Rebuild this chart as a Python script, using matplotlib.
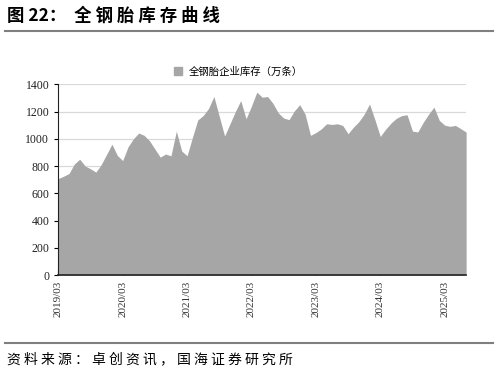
import matplotlib
matplotlib.use("Agg")
import matplotlib.pyplot as plt
from matplotlib.lines import Line2D
from matplotlib.patches import Patch

plt.rcParams['font.family'] = ['Noto Sans CJK SC', 'DejaVu Sans']

# =========================
# Datos (mensual, 2019/03 - 2025/07)
# =========================
months = ["2019/03", "2019/04", "2019/05", "2019/06", "2019/07", "2019/08", "2019/09",
          "2019/10", "2019/11", "2019/12", "2020/01", "2020/02",
          "2020/03", "2020/04", "2020/05", "2020/06", "2020/07", "2020/08", "2020/09",
          "2020/10", "2020/11", "2020/12", "2021/01", "2021/02",
          "2021/03", "2021/04", "2021/05", "2021/06", "2021/07", "2021/08", "2021/09",
          "2021/10", "2021/11", "2021/12", "2022/01", "2022/02",
          "2022/03", "2022/04", "2022/05", "2022/06", "2022/07", "2022/08", "2022/09",
          "2022/10", "2022/11", "2022/12", "2023/01", "2023/02",
          "2023/03", "2023/04", "2023/05", "2023/06", "2023/07", "2023/08", "2023/09",
          "2023/10", "2023/11", "2023/12", "2024/01", "2024/02",
          "2024/03", "2024/04", "2024/05", "2024/06", "2024/07", "2024/08", "2024/09",
          "2024/10", "2024/11", "2024/12", "2025/01", "2025/02",
          "2025/03", "2025/04", "2025/05", "2025/06", "2025/07"]

inventory = [708, 725, 745, 815, 850, 800, 780, 755, 810, 885, 960, 878,
             840, 940, 1000, 1042, 1025, 985, 925, 865, 888, 875, 1056, 910,
             875, 1010, 1138, 1170, 1222, 1310, 1165, 1020, 1110, 1200, 1280, 1147,
             1240, 1342, 1305, 1310, 1260, 1190, 1152, 1140, 1205, 1250, 1180, 1025,
             1045, 1072, 1110, 1105, 1110, 1098, 1037, 1085, 1125, 1180, 1255, 1140,
             1017, 1070, 1115, 1150, 1170, 1176, 1056, 1050, 1120, 1180, 1232, 1135,
             1100, 1091, 1098, 1074, 1049]

series_name = "全钢胎企业库存（万条）"
title = "图 22：  全 钢 胎 库 存 曲 线"
source = "资 料 来 源 ： 卓 创 资 讯 ， 国 海 证 券 研 究 所"

# =========================
# Figura
# =========================
fig = plt.figure(figsize=(4.98, 3.74), dpi=100)
ax = fig.add_axes([0.117, 0.2647, 0.819, 0.51])

x = list(range(len(inventory)))
ax.fill_between(x, inventory, 0, color="#a6a6a6", linewidth=0)

ax.set_xlim(0, len(inventory) - 1)
ax.set_ylim(0, 1400)
ax.set_yticks(range(0, 1401, 200))
ax.yaxis.grid(True, color="#d9d9d9", linewidth=0.9)
ax.set_axisbelow(True)

tick_idx = [i for i, m in enumerate(months) if m.endswith("/03")]
ax.set_xticks(tick_idx)
ax.set_xticklabels([months[i] for i in tick_idx], rotation=90,
                   family="Liberation Serif", fontsize=8, color="#333333")
for lab in ax.get_yticklabels():
    lab.set_family("Liberation Serif")
ax.tick_params(axis="y", labelsize=8.5, labelcolor="#222222", direction="out", length=3)
ax.tick_params(axis="x", direction="in", length=4, pad=4)

for side in ["top", "right"]:
    ax.spines[side].set_visible(False)
ax.spines["left"].set_color("#222222")
ax.spines["bottom"].set_color("#222222")
ax.spines["bottom"].set_linewidth(1.2)

# leyenda
fig.legend(handles=[Patch(color="#a6a6a6", label=series_name)],
           loc="center", bbox_to_anchor=(0.478, 0.808), frameon=False,
           fontsize=7.5, handlelength=0.8, handleheight=0.8, handletextpad=0.6)

# =========================
# Titulo / fuente
# =========================
fig.text(0.014, 0.957, title, fontsize=12.5, fontweight="bold", va="center", ha="left")
fig.add_artist(Line2D([0.01, 0.99], [0.917, 0.917], color="#7f7f7f", linewidth=1.5))
fig.add_artist(Line2D([0.01, 0.99], [0.083, 0.083], color="#7f7f7f", linewidth=1.5))
fig.text(0.014, 0.040, source, fontsize=10, va="center", ha="left")

fig.savefig("out.png", dpi=100)
